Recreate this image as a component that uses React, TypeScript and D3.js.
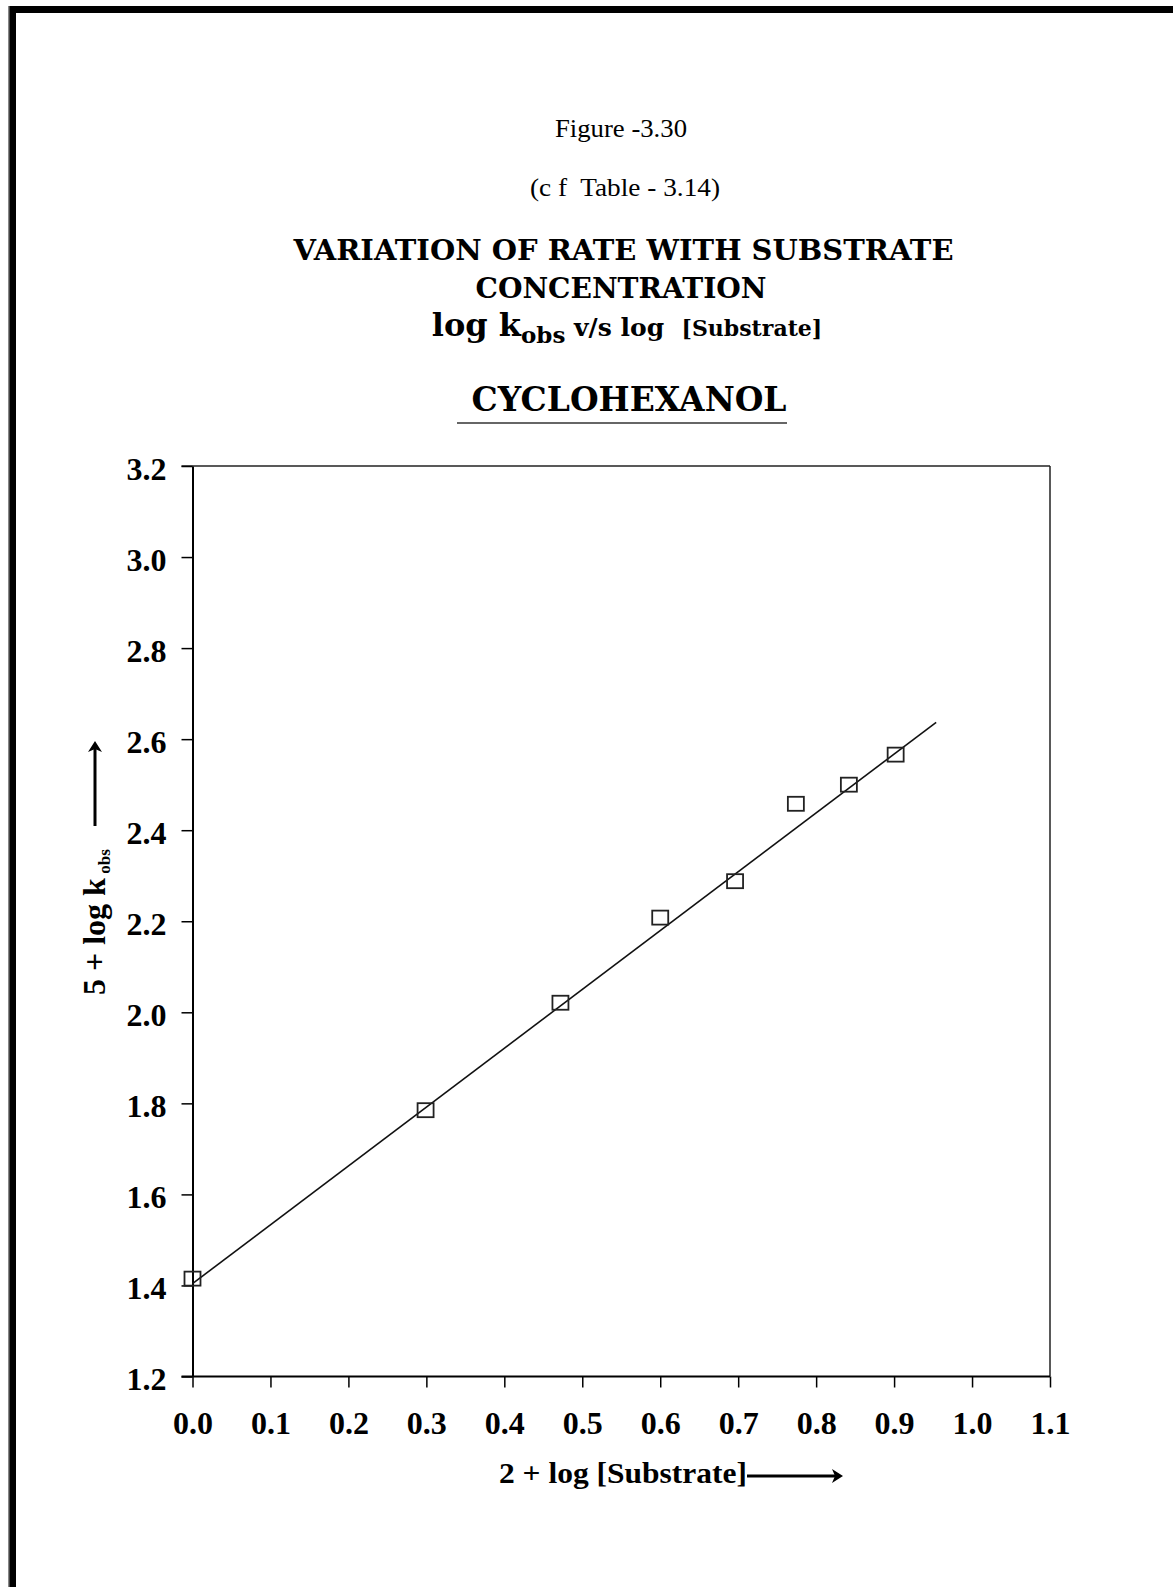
import React, { useRef, useEffect } from 'react';
import * as d3 from 'd3';

// 2 + log [Substrate]
const logSubstrate = [0.0, 0.299, 0.472, 0.6, 0.696, 0.774, 0.842, 0.902];
// 5 + log k_obs
const logKobs = [1.415, 1.785, 2.021, 2.208, 2.288, 2.458, 2.5, 2.566];

// least squares line as drawn in the figure (end points)
const fitX = [0.0, 0.954];
const fitY = [1.404, 2.637];

const xTicks = [0, 0.1, 0.2, 0.3, 0.4, 0.5, 0.6, 0.7, 0.8, 0.9, 1.0, 1.1];
const yTicks = [1.2, 1.4, 1.6, 1.8, 2.0, 2.2, 2.4, 2.6, 2.8, 3.0, 3.2];

const W = 1173;
const H = 1587;
const serif = '"Liberation Serif", "Times New Roman", serif';
const slab = '"DejaVu Serif", serif';

const App: React.FC = () => {
  const svgRef = useRef<SVGSVGElement>(null);

  useEffect(() => {
    if (!svgRef.current) return;
    const svg = d3.select(svgRef.current);
    svg.selectAll('*').remove();

    // page border (top and left only)
    svg.append('rect').attr('x', 8).attr('y', 6).attr('width', W - 8).attr('height', 7).attr('fill', '#000');
    svg.append('rect').attr('x', 8).attr('y', 6).attr('width', 8).attr('height', H - 6).attr('fill', '#000');
    svg.append('rect').attr('x', 8).attr('y', 6).attr('width', 1.5).attr('height', H - 6).attr('fill', '#888');

    // captions
    svg.append('text')
      .attr('x', 621).attr('y', 137)
      .attr('text-anchor', 'middle')
      .attr('font-family', serif).attr('font-size', 25)
      .attr('textLength', 132).attr('lengthAdjust', 'spacingAndGlyphs')
      .text('Figure -3.30');
    svg.append('text')
      .attr('x', 625).attr('y', 196)
      .attr('text-anchor', 'middle')
      .attr('font-family', serif).attr('font-size', 25)
      .attr('xml:space', 'preserve')
      .attr('textLength', 190).attr('lengthAdjust', 'spacingAndGlyphs')
      .text('(c f  Table - 3.14)');

    svg.append('text')
      .attr('x', 623.5).attr('y', 260)
      .attr('text-anchor', 'middle')
      .attr('font-family', slab).attr('font-weight', 'bold').attr('font-size', 28)
      .attr('textLength', 660).attr('lengthAdjust', 'spacingAndGlyphs')
      .text('VARIATION OF RATE WITH SUBSTRATE');
    svg.append('text')
      .attr('x', 621).attr('y', 298)
      .attr('text-anchor', 'middle')
      .attr('font-family', slab).attr('font-weight', 'bold').attr('font-size', 28)
      .attr('textLength', 291).attr('lengthAdjust', 'spacingAndGlyphs')
      .text('CONCENTRATION');

    const sub = svg.append('text')
      .attr('x', 627).attr('y', 336)
      .attr('text-anchor', 'middle')
      .attr('font-family', slab).attr('font-weight', 'bold')
      .attr('xml:space', 'preserve');
    sub.append('tspan').attr('font-size', 32).text('log k');
    sub.append('tspan').attr('font-size', 23).attr('dy', 7).text('obs');
    sub.append('tspan').attr('font-size', 25).attr('dy', -7).text(' v/s log  ');
    sub.append('tspan').attr('font-size', 22).text('[Substrate]');

    svg.append('text')
      .attr('x', 629).attr('y', 411)
      .attr('text-anchor', 'middle')
      .attr('font-family', slab).attr('font-weight', 'bold').attr('font-size', 33)
      .attr('textLength', 315).attr('lengthAdjust', 'spacingAndGlyphs')
      .text('CYCLOHEXANOL');
    svg.append('line')
      .attr('x1', 457).attr('x2', 787).attr('y1', 423).attr('y2', 423)
      .attr('stroke', '#333').attr('stroke-width', 1.5);

    // plot area
    const left = 192.5, right = 1050, top = 466, bottom = 1376.5;
    const x = d3.scaleLinear().domain([0, 1.1]).range([left, right]);
    const y = d3.scaleLinear().domain([1.2, 3.2]).range([bottom, top]);

    // frame top / right
    svg.append('line').attr('x1', left - 11).attr('x2', right).attr('y1', top).attr('y2', top)
      .attr('stroke', '#222').attr('stroke-width', 1.5);
    svg.append('line').attr('x1', right).attr('x2', right).attr('y1', top).attr('y2', bottom)
      .attr('stroke', '#222').attr('stroke-width', 1.5);

    const xAxis = svg.append('g')
      .attr('transform', `translate(0,${bottom})`)
      .call(d3.axisBottom(x).tickValues(xTicks).tickSizeInner(11).tickSizeOuter(0).tickPadding(24).tickFormat(d3.format('.1f')));
    xAxis.select('.domain').attr('stroke', '#000').attr('stroke-width', 2)
      .attr('d', `M${left - 11},0H${right}`);
    xAxis.selectAll('.tick line').attr('stroke', '#000').attr('stroke-width', 1.5);
    xAxis.selectAll('.tick text')
      .attr('font-family', serif).attr('font-weight', 'bold').attr('font-size', 32)
      .attr('fill', '#000').attr('dy', '0.71em');

    const yAxis = svg.append('g')
      .attr('transform', `translate(${left},0)`)
      .call(d3.axisLeft(y).tickValues(yTicks).tickSizeInner(11).tickSizeOuter(0).tickPadding(15).tickFormat(d3.format('.1f')));
    yAxis.select('.domain').attr('stroke', '#000').attr('stroke-width', 2);
    yAxis.selectAll('.tick line').attr('stroke', '#000').attr('stroke-width', 1.5);
    yAxis.selectAll('.tick text')
      .attr('font-family', serif).attr('font-weight', 'bold').attr('font-size', 32)
      .attr('fill', '#000').attr('dy', '0.42em');

    // fitted line
    const lineGen = d3.line<number>()
      .x((d, i) => x(fitX[i]))
      .y(d => y(d));
    svg.append('path')
      .datum(fitY)
      .attr('d', lineGen)
      .attr('fill', 'none')
      .attr('stroke', '#111')
      .attr('stroke-width', 1.6);

    // data markers
    svg.append('g')
      .selectAll('rect')
      .data(logSubstrate.map((v, i) => [v, logKobs[i]]))
      .join('rect')
      .attr('x', d => x(d[0]) - 8)
      .attr('y', d => y(d[1]) - 7)
      .attr('width', 16)
      .attr('height', 14)
      .attr('fill', 'none')
      .attr('stroke', '#222')
      .attr('stroke-width', 1.8);

    // axis titles
    const yt = svg.append('text')
      .attr('transform', 'translate(105,995) rotate(-90)')
      .attr('font-family', serif).attr('font-weight', 'bold')
      .attr('xml:space', 'preserve');
    yt.append('tspan').attr('font-size', 32).text('5 + log k');
    yt.append('tspan').attr('font-size', 17).attr('dy', 5).text(' obs');

    svg.append('line')
      .attr('x1', 95).attr('x2', 95).attr('y1', 826).attr('y2', 748)
      .attr('stroke', '#000').attr('stroke-width', 3);
    svg.append('path')
      .attr('d', 'M95,741 L88,752 L95,749 L102,752 Z')
      .attr('fill', '#000');

    svg.append('text')
      .attr('x', 499).attr('y', 1483)
      .attr('font-family', serif).attr('font-weight', 'bold').attr('font-size', 30)
      .attr('textLength', 248).attr('lengthAdjust', 'spacingAndGlyphs')
      .text('2 + log [Substrate]');
    svg.append('line')
      .attr('x1', 747).attr('x2', 836).attr('y1', 1476).attr('y2', 1476)
      .attr('stroke', '#000').attr('stroke-width', 3);
    svg.append('path')
      .attr('d', 'M843,1476 L832,1469 L835,1476 L832,1483 Z')
      .attr('fill', '#000');
  }, []);

  return (
    <svg
      ref={svgRef}
      width={W}
      height={H}
      style={{ position: 'absolute', left: 0, top: 0, background: '#fff' }}
    />
  );
};

export default App;
